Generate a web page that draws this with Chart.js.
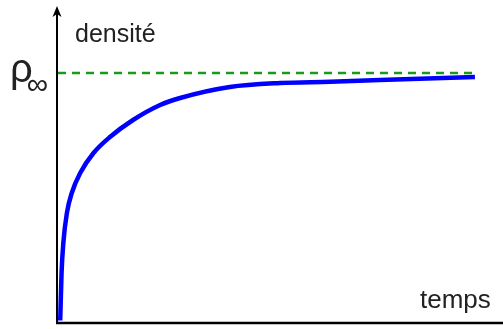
<!DOCTYPE html>
<html>
<head>
<meta charset="utf-8">
<script src="https://cdn.jsdelivr.net/npm/chart.js@4"></script>
<style>
  html, body { margin: 0; padding: 0; background: #fff; }
  #wrap { position: relative; width: 503px; height: 329px; }
  .lbl { position: absolute; font-family: "Liberation Sans", Arial, sans-serif; color: #222; white-space: nowrap; }
</style>
</head>
<body>
<div id="wrap">
  <canvas id="density-chart" width="503" height="329"></canvas>
  <div class="lbl" style="left:75px; top:21px; font-size:25px; line-height:25px;">densité</div>
  <div class="lbl" style="left:420px; top:286px; font-size:26px; line-height:26px;">temps</div>
  <div class="lbl" style="left:10px; top:48px; font-size:40px; line-height:40px;">ρ<span style="font-size:30px; position:relative; top:12px; margin-left:-6px;">∞</span></div>
</div>
<script>
// time axis 0..10, density normalised so that rho_inf = 1
const times = [0.05, 0.08, 0.12, 0.2, 0.31, 0.5, 0.8, 1.17, 1.69, 2.3, 2.75, 3.87, 5.0, 6.13, 7.25, 9.39];
const density = [0.01, 0.2, 0.32, 0.44, 0.52, 0.6, 0.68, 0.744, 0.812, 0.872, 0.9, 0.944, 0.96, 0.965, 0.972, 0.984];
const rhoInf = 1;
const limitTimes = [0, 9.39];

const canvas = document.querySelector("#density-chart");

// draws the two axes and the arrow head on the y axis
const axesPlugin = {
  id: "axes",
  afterDraw(chart) {
    const { ctx, chartArea } = chart;
    const x0 = chartArea.left - 1;
    const y0 = chartArea.bottom;
    ctx.save();
    ctx.strokeStyle = "#000";
    ctx.lineWidth = 2.5;
    ctx.beginPath();
    ctx.moveTo(x0 - 1, y0);
    ctx.lineTo(chartArea.right + 1, y0);
    ctx.stroke();
    ctx.lineWidth = 2;
    ctx.beginPath();
    ctx.moveTo(x0, y0);
    ctx.lineTo(x0, chartArea.top + 6);
    ctx.stroke();
    ctx.fillStyle = "#000";
    ctx.beginPath();
    ctx.moveTo(x0, chartArea.top);
    ctx.lineTo(x0 - 4.5, chartArea.top + 11);
    ctx.lineTo(x0, chartArea.top + 8);
    ctx.lineTo(x0 + 4.5, chartArea.top + 11);
    ctx.closePath();
    ctx.fill();
    ctx.restore();
  },
};

const options = {
  type: "line",
  data: {
    datasets: [
      {
        label: "limite",
        data: limitTimes.map((t) => ({ x: t, y: rhoInf })),
        borderColor: "#1a9a1a",
        borderWidth: 2.5,
        borderDash: [8, 6],
        pointRadius: 0,
      },
      {
        label: "densité",
        data: times.map((t, i) => ({ x: t, y: density[i] })),
        borderColor: "#0000ff",
        borderWidth: 4.5,
        cubicInterpolationMode: "monotone",
        pointRadius: 0,
        borderCapStyle: "butt",
      },
    ],
  },
  options: {
    responsive: false,
    animation: false,
    layout: { padding: { left: 58, right: 1, top: 6, bottom: 6 } },
    plugins: { legend: { display: false }, tooltip: { enabled: false } },
    scales: {
      x: { type: "linear", min: 0, max: 10, display: false },
      y: { min: 0, max: 1.268, display: false },
    },
  },
  plugins: [axesPlugin],
};

const densityChart = new Chart(canvas, options);
</script>
</body>
</html>
